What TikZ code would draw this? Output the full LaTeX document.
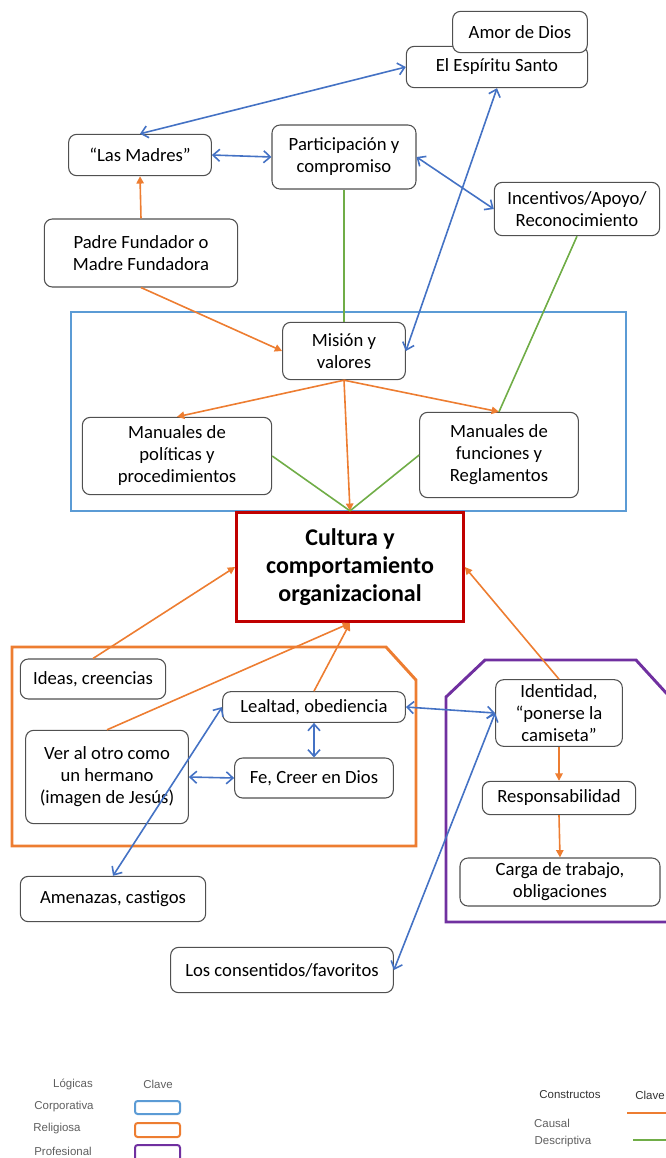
\documentclass[tikz,border=0pt]{standalone}
\usepackage{fontspec}
\setmainfont{Carlito}
\newfontfamily\legendfont{Liberation Sans}
\usepackage{tikz}
\usetikzlibrary{arrows.meta,positioning}
\definecolor{boxgray}{RGB}{80,80,80}
\definecolor{corp}{RGB}{91,155,213}
\definecolor{inter}{RGB}{68,114,196}
\definecolor{causal}{RGB}{237,125,49}
\definecolor{descr}{RGB}{112,173,71}
\definecolor{prof}{RGB}{112,48,160}
\definecolor{core}{RGB}{192,0,0}
\definecolor{legendgray}{RGB}{95,95,95}

\tikzset{
  box/.style={draw=boxgray, line width=0.8pt, rounded corners=6pt, fill=white,
    align=center, inner sep=1pt, font=\fontsize{14}{16.5}\selectfont},
  causalarrow/.style={draw=causal, line width=1.2pt, -{Triangle[length=5.5pt,width=5.5pt]}},
  descrline/.style={draw=descr, line width=1.2pt},
  interarrow/.style={draw=inter, line width=1.2pt,
    {Straight Barb[length=5pt,width=9pt]}-{Straight Barb[length=5pt,width=9pt]}},
  legendtext/.style={font=\legendfont\fontsize{8.6}{10}\selectfont, text=legendgray, inner sep=0pt},
}

\begin{document}
\begin{tikzpicture}[x=0.75pt,y=-0.75pt]
    \useasboundingbox (0,0) rectangle (666,1158);
    \clip (0,0) rectangle (666,1158);

    % Logic frames
    \draw[corp, line width=1.9pt] (71,312) rectangle (626,511);
    \draw[causal, line width=2.2pt]
        (12,647) -- (386,647) -- (416,680) -- (416,846) -- (12,846) -- cycle;
    \draw[prof, line width=2.2pt]
        (446,697) -- (485,660) -- (636,660) -- (700,730) -- (700,922) -- (446,922) -- cycle;

    % Top nodes
    \node[box, minimum width=136pt, minimum height=31pt] (espiritu) at (497,67) {El Espíritu Santo};
    \node[box, minimum width=101pt, minimum height=31pt] (amor) at (520,32) {Amor de Dios};
    \node[box, minimum width=107pt, minimum height=31pt] (madres) at (140,155) {“Las Madres”};
    \node[box, minimum width=108pt, minimum height=48pt] (particip) at (344,157) {Participación y\\compromiso};
    \node[box, minimum width=124pt, minimum height=40pt] (incent) at (577,209) {Incentivos/Apoyo/\\Reconocimiento};
    \node[box, minimum width=145pt, minimum height=51pt] (padre) at (141,253) {Padre Fundador o\\Madre Fundadora};

    % Corporate nodes
    \node[box, minimum width=92pt, minimum height=43pt] (mision) at (344,351) {Misión y\\valores};
    \node[box, minimum width=142pt, minimum height=58pt] (manpol) at (177,456) {Manuales de\\políticas y\\procedimientos};
    \node[box, minimum width=119pt, minimum height=64pt] (manfun) at (499,455) {Manuales de\\funciones y\\Reglamentos};

    % Core
    \node[draw=core, line width=2.2pt, fill=white, align=center, inner sep=1pt,
        minimum width=170pt, minimum height=82pt,
        font=\fontsize{18}{21}\selectfont\bfseries] (cultura) at (350,567) {Cultura y\\comportamiento\\organizacional};

    % Religious nodes
    \node[box, minimum width=109pt, minimum height=30pt] (ideas) at (93,679) {Ideas, creencias};
    \node[box, minimum width=137pt, minimum height=23pt] (lealtad) at (314,707) {Lealtad, obediencia};
    \node[box, minimum width=122pt, minimum height=70pt] (ver) at (107,777) {Ver al otro como\\un hermano\\(imagen de Jesús)};
    \node[box, minimum width=119pt, minimum height=30pt] (fe) at (314,778) {Fe, Creer en Dios};

    % Professional nodes
    \node[box, minimum width=95pt, minimum height=50pt] (identidad) at (559,713) {Identidad,\\“ponerse la\\camiseta”};
    \node[box, minimum width=115pt, minimum height=25pt] (respons) at (559,798) {Responsabilidad};
    \node[box, minimum width=150pt, minimum height=36pt] (carga) at (560,882) {Carga de trabajo,\\obligaciones};

    % Outside nodes
    \node[box, minimum width=139pt, minimum height=34pt] (amenazas) at (113,899) {Amenazas, castigos};
    \node[box, minimum width=167pt, minimum height=34pt] (consent) at (282,970) {Los consentidos/favoritos};

    % Causal links
    \draw[causalarrow] (padre.north) -- (madres.south);
    \draw[causalarrow] (padre.south) -- (mision.west);
    \draw[causalarrow] (mision.south) -- (manpol.north);
    \draw[causalarrow] (mision.south) -- (manfun.north);
    \draw[causalarrow] (mision.south) -- (cultura.north);
    \draw[causalarrow] (ideas.north) -- (cultura.west);
    \draw[causalarrow] (ver.north) -- (cultura.south);
    \draw[causalarrow] (lealtad.north) -- (cultura.south);
    \draw[causalarrow] (identidad.north) -- (cultura.east);
    \draw[causalarrow] (identidad.south) -- (respons.north);
    \draw[causalarrow] (respons.south) -- (carga.north);

    % Descriptive links
    \draw[descrline] (particip.south) -- (mision.north);
    \draw[descrline] (incent.south) -- (manfun.north);
    \draw[descrline] (manpol.east) -- (cultura.north);
    \draw[descrline] (manfun.west) -- (cultura.north);

    % Two-way links
    \draw[interarrow] (madres.north) -- (espiritu.west);
    \draw[interarrow] (madres.east) -- (particip.west);
    \draw[interarrow] (particip.east) -- (incent.west);
    \draw[interarrow] (mision.east) -- (espiritu.south);
    \draw[interarrow] (lealtad.west) -- (amenazas.north);
    \draw[interarrow] (ver.east) -- (fe.west);
    \draw[interarrow] (lealtad.south) -- (fe.north);
    \draw[interarrow] (lealtad.east) -- (identidad.west);
    \draw[interarrow] (identidad.west) -- (consent.east);

    % Legend
    \node[legendtext] (logicas) at (73,1084) {Lógicas};
    \node[legendtext] (clave) at (158,1084) {Clave};
    \node[legendtext] (corporativa) at (64,1107) {Corporativa};
    \node[legendtext] (religiosa) at (57,1129) {Religiosa};
    \node[legendtext] (profesional) at (63,1151) {Profesional};
    \draw[corp, line width=1.5pt, rounded corners=2pt] (135,1101) rectangle (180,1114);
    \draw[causal, line width=1.5pt, rounded corners=2pt] (135,1123) rectangle (180,1137);
    \draw[prof, line width=1.5pt, rounded corners=2pt] (135,1145) rectangle (180,1166);

    \node[legendtext, text=black!80] (constructos) at (570,1095) {Constructos};
    \node[legendtext, text=black!80, anchor=east] (clave2) at (665,1095) {Clave};
    \node[legendtext] (causal) at (552,1123) {Causal};
    \node[legendtext] (descriptiva) at (563,1142) {Descriptiva};
    \draw[causal, line width=1.3pt] (627,1113) -- (680,1113);
    \draw[descr, line width=1.3pt] (633,1140) -- (680,1140);
\end{tikzpicture}
\end{document}
